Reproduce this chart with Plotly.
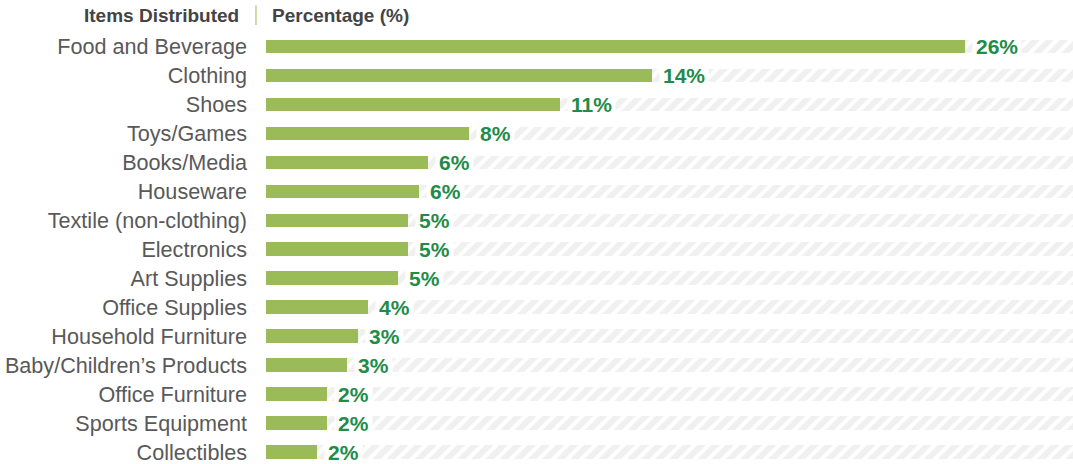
import plotly.graph_objects as go

categories = ['Food and Beverage', 'Clothing', 'Shoes', 'Toys/Games', 'Books/Media',
              'Houseware', 'Textile (non-clothing)', 'Electronics', 'Art Supplies',
              'Office Supplies', 'Household Furniture', 'Baby/Children\u2019s Products',
              'Office Furniture', 'Sports Equipment', 'Collectibles']
values = [26.0, 14.35, 10.93, 7.56, 6.02, 5.69, 5.28, 5.28, 4.91, 3.79, 3.42, 3.01, 2.27, 2.27, 1.90]
labels = ['26%', '14%', '11%', '8%', '6%', '6%', '5%', '5%', '5%', '4%', '3%', '3%', '2%', '2%', '2%']
axis_max = 30

BAR_GREEN = '#9bbb59'
TEXT_GREEN = '#1f8c47'
HATCH_GRAY = '#e1e2e3'

fig = go.Figure()

# hatched track behind each bar
fig.add_trace(go.Bar(
    y=categories, x=[axis_max] * len(categories), orientation='h', width=0.48,
    marker=dict(color='white', line=dict(width=0),
                pattern=dict(shape='/', fgcolor=HATCH_GRAY, bgcolor='white', size=10, solidity=0.6)),
    hoverinfo='skip', showlegend=False,
))
fig.add_trace(go.Bar(
    y=categories, x=values, orientation='h', width=0.48,
    marker=dict(color=BAR_GREEN, line=dict(width=0)),
    showlegend=False,
))

for cat, val, lab in zip(categories, values, labels):
    fig.add_annotation(x=val, y=cat, text='<b>%s</b>' % lab, showarrow=False,
                       xanchor='left', xshift=7, bgcolor='white', borderpad=3,
                       font=dict(size=21, color=TEXT_GREEN, family='Liberation Sans'))

# column headers
fig.add_annotation(x=-0.031, y=1.039, xref='paper', yref='paper', xanchor='right', yanchor='middle',
                   text='<b>Items Distributed</b>', showarrow=False,
                   font=dict(size=19, color='#444444', family='Liberation Sans'))
fig.add_annotation(x=0.005, y=1.039, xref='paper', yref='paper', xanchor='left', yanchor='middle',
                   text='<b>Percentage (%)</b>', showarrow=False,
                   font=dict(size=19, color='#444444', family='Liberation Sans'))
fig.add_shape(type='line', xref='paper', yref='paper', x0=-0.0124, x1=-0.0124, y0=1.016, y1=1.062,
              line=dict(color='#b5d58f', width=1.5))

fig.update_layout(
    width=1073, height=464, barmode='overlay', bargap=0,
    margin=dict(l=266, r=0, t=32, b=0, autoexpand=False),
    plot_bgcolor='white', paper_bgcolor='white',
    xaxis=dict(range=[0, axis_max], visible=False, fixedrange=True),
    yaxis=dict(autorange=False, range=[14.4, -0.5], showgrid=False, zeroline=False,
               ticks='', ticklabelstandoff=18,
               tickfont=dict(size=21.6, color='#595959', family='Liberation Sans')),
    font=dict(family='Liberation Sans'),
)

# drop the default 8px page margin so the figure fills the window
fig.write_html("out.html", config={'displayModeBar': False},
               post_script="document.body.style.margin='0';")
